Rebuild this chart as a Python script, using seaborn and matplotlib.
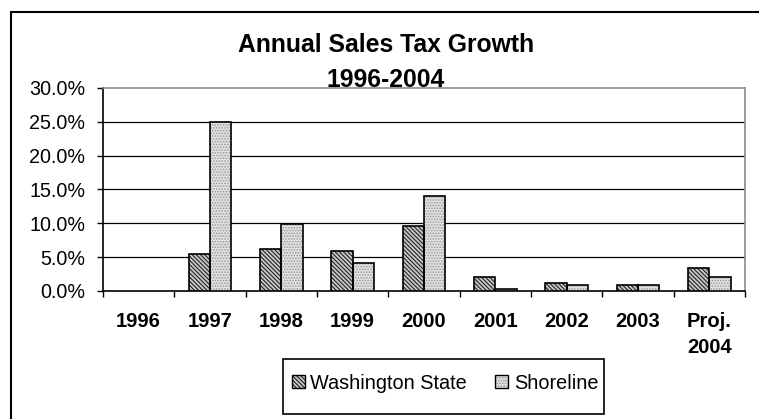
import numpy as np
import pandas as pd
import matplotlib
matplotlib.use("Agg")
import matplotlib.pyplot as plt
import seaborn as sns
from matplotlib.patches import Rectangle, Patch
from matplotlib.ticker import PercentFormatter, FixedLocator
from matplotlib.legend_handler import HandlerTuple

# Annual sales tax growth, percent
years = ["1996", "1997", "1998", "1999", "2000", "2001", "2002", "2003", "Proj.\n2004"]
washington = [0.0, 5.5, 6.2, 5.95, 9.65, 2.05, 1.15, 0.9, 3.45]
shoreline = [0.0, 25.0, 9.85, 4.1, 14.05, 0.25, 0.9, 0.9, 2.05]
series = ["Washington State", "Shoreline"]

sns.set_style("white")
plt.rcParams["font.family"] = ["Liberation Sans", "DejaVu Sans"]
plt.rcParams["hatch.linewidth"] = 0.8
plt.rcParams["text.color"] = "black"
plt.rcParams["xtick.color"] = "black"
plt.rcParams["ytick.color"] = "black"
plt.rcParams["xtick.labelcolor"] = "black"
plt.rcParams["ytick.labelcolor"] = "black"

df = pd.DataFrame({
    "Year": years * 2,
    "Growth": np.array(washington + shoreline) / 100.0,
    "Series": [series[0]] * len(years) + [series[1]] * len(years),
})

W, H = 759, 419
fig = plt.figure(figsize=(W / 100, H / 100), dpi=100)
ax = fig.add_axes([103 / W, 1 - 291 / H, (745 - 103) / W, (291 - 88) / H])

sns.barplot(data=df, x="Year", y="Growth", hue="Series", order=years,
            hue_order=series, palette=["white", "#ececec"], saturation=1,
            width=0.6, legend=False, ax=ax, zorder=3)

styles = {
    series[0]: dict(face="#c8c8c8", hatch="\\" * 8, hcolor="#222222"),
    series[1]: dict(face="#e2e2e2", hatch="." * 6, hcolor="#999999"),
}

# hatched fill without edge, then a crisp black outline on top
for name, cont in zip(series, ax.containers):
    st = styles[name]
    for bar in cont:
        bar.set_facecolor(st["face"])
        bar.set_hatch(st["hatch"])
        bar.set_edgecolor(st["hcolor"])
        bar.set_linewidth(0)
        if bar.get_height() > 0:
            ax.add_patch(Rectangle(bar.get_xy(), bar.get_width(), bar.get_height(),
                                   fill=False, edgecolor="black", lw=1.2, zorder=4))

ax.set_ylim(0, 0.30)
ax.set_xlim(-0.5, len(years) - 0.5)
ax.yaxis.set_major_locator(FixedLocator(np.arange(0, 0.301, 0.05)))
ax.yaxis.set_major_formatter(PercentFormatter(xmax=1, decimals=1))
ax.set_xlabel("")
ax.set_ylabel("")

ax.yaxis.grid(True, color="black", lw=0.9)
ax.set_axisbelow(True)
gridlines = ax.yaxis.get_gridlines()
for i, gl in enumerate(gridlines):
    if i in (0, len(gridlines) - 1):
        gl.set_visible(False)

for side in ("left", "bottom"):
    ax.spines[side].set_color("black")
    ax.spines[side].set_linewidth(1.2)
for side in ("top", "right"):
    ax.spines[side].set_color("#8c8c8c")
    ax.spines[side].set_linewidth(1.2)
    ax.spines[side].set_visible(True)

ax.tick_params(axis="y", which="major", left=True, length=4.3, width=1,
               color="black", direction="out", pad=8.6, labelsize=14.2,
               labelcolor="black")
ax.tick_params(axis="x", which="major", length=0, pad=15, labelsize=14.5,
               labelcolor="black")
ax.xaxis.set_minor_locator(FixedLocator(np.arange(-0.5, len(years), 1.0)))
ax.tick_params(axis="x", which="minor", bottom=True, length=4.3, width=1,
               color="black", direction="out")
for lbl in ax.get_xticklabels():
    lbl.set_fontweight("bold")
    lbl.set_linespacing(1.45)

# title
fig.text(386 / W, 1 - 52 / H, "Annual Sales Tax Growth", ha="center",
         va="baseline", fontsize=17.8, fontweight="bold", color="black")
fig.text(386 / W, 1 - 87 / H, "1996-2004", ha="center",
         va="baseline", fontsize=17.8, fontweight="bold", color="black")

# legend
handles = []
for name in series:
    st = styles[name]
    fill = Patch(facecolor=st["face"], hatch=st["hatch"], edgecolor=st["hcolor"], lw=0)
    edge = Patch(fill=False, edgecolor="black", lw=1.0)
    handles.append((fill, edge))
fig.add_artist(Rectangle((283 / W, 1 - 414 / H), (604 - 283) / W, (414 - 359) / H,
                         transform=fig.transFigure, fill=False, edgecolor="black",
                         lw=1.2))
fig.legend(handles, series, loc="center", bbox_to_anchor=(445 / W, 1 - 383 / H),
           ncol=2, frameon=False, fontsize=14.3, handlelength=0.65,
           handleheight=0.6, handletextpad=0.3, columnspacing=1.4,
           labelcolor="black",
           handler_map={tuple: HandlerTuple(ndivide=1, pad=0)})

# outer chart frame
fig.add_artist(Rectangle((11 / W, -0.2), 2.0, 1.2 - 12 / H, transform=fig.transFigure,
                         fill=False, edgecolor="black", lw=1.5, clip_on=False))

fig.savefig("out.png", dpi=100)
